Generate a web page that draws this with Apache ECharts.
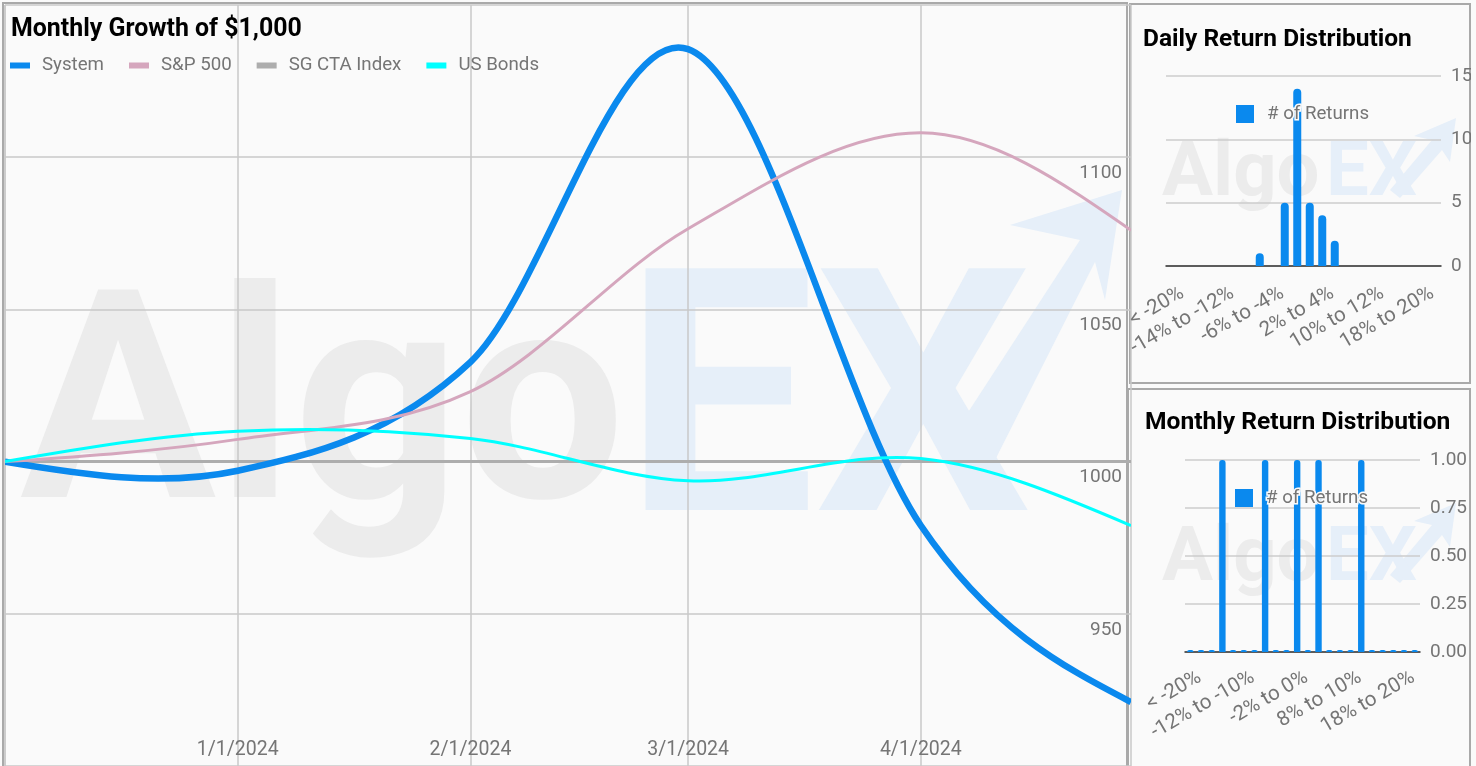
<!DOCTYPE html>
<html>
<head>
<meta charset="utf-8">
<script src="https://cdn.jsdelivr.net/npm/echarts@6/dist/echarts.min.js"></script>
<style>
html,body{margin:0;padding:0;background:#fafafa;}
#c{width:1476px;height:766px;}
</style>
</head>
<body>
<div id="c"></div>
<script>
// ---- Monthly growth of $1,000 ----
const dates = ['2023-12-01', '2024-01-01', '2024-02-01', '2024-03-01', '2024-04-01', '2024-04-29'];
const systemValues = [1000, 997, 1032.7, 1135.5, 979, 921];
const sp500Values = [1000, 1007.3, 1023, 1076.5, 1108, 1076];
const ctaValues = [1000, 1000, 1000, 1000, 1000, 1000];
const bondValues = [1000, 1010, 1007.6, 993.7, 1001, 979];
const seriesNames = ['System', 'S&P 500', 'SG CTA Index', 'US Bonds'];

// ---- Return distributions ----
const returnBins = ['< -20%', '-20% to -18%', '-18% to -16%', '-16% to -14%', '-14% to -12%',
  '-12% to -10%', '-10% to -8%', '-8% to -6%', '-6% to -4%', '-4% to -2%', '-2% to 0%',
  '0% to 2%', '2% to 4%', '4% to 6%', '6% to 8%', '8% to 10%', '10% to 12%', '12% to 14%',
  '14% to 16%', '16% to 18%', '18% to 20%', '> 20%'];
const dailyCounts = [0, 0, 0, 0, 0, 0, 0, 1, 0, 5, 14, 5, 4, 2, 0, 0, 0, 0, 0, 0, 0, 0];
const monthlyCounts = [0, 0, 0, 1, 0, 0, 0, 1, 0, 0, 1, 0, 1, 0, 0, 0, 1, 0, 0, 0, 0, 0];
const dailyTicks = [0, 5, 10, 15];
const monthlyTicks = [0, 0.25, 0.5, 0.75, 1];

const FONT = 'Roboto, "Noto Sans", sans-serif';
const GRAY = '#757575';
const BLUE = '#0a89ee';

const ts = (d) => echarts.time.parse(d).getTime();
const times = dates.map(ts);
const pair = (arr) => times.map((t, i) => [t, arr[i]]);

// smooth function curve through the points: cubic Hermite with
// Catmull-Rom slopes inside and zero-curvature ends
function curvePath(pts) {
  const n = pts.length;
  const slope = (a, b) => (b[1] - a[1]) / (b[0] - a[0]);
  const m = new Array(n);
  for (let i = 1; i < n - 1; i++) m[i] = slope(pts[i - 1], pts[i + 1]);
  const s0 = slope(pts[0], pts[1]);
  const sn = slope(pts[n - 2], pts[n - 1]);
  m[0] = n > 2 ? (3 * s0 - m[1]) / 2 : s0;
  m[n - 1] = n > 2 ? (3 * sn - m[n - 2]) / 2 : sn;
  let d = 'M' + pts[0][0] + ' ' + pts[0][1];
  for (let i = 0; i < n - 1; i++) {
    const h = (pts[i + 1][0] - pts[i][0]) / 3;
    d += ' C' + (pts[i][0] + h) + ' ' + (pts[i][1] + m[i] * h) + ' ' +
      (pts[i + 1][0] - h) + ' ' + (pts[i + 1][1] - m[i + 1] * h) + ' ' +
      pts[i + 1][0] + ' ' + pts[i + 1][1];
  }
  return d;
}

function curveSeries(name, values, color, width, z) {
  return {
    name: name, type: 'custom', xAxisIndex: 0, yAxisIndex: 0, clip: true, z: z,
    data: pair(values), encode: {x: 0, y: 1},
    color: color, itemStyle: {color: color},
    renderItem: function (params, api) {
      if (params.dataIndexInside !== 0) return null;
      const pts = values.map((v, i) => api.coord([times[i], v]));
      return {
        type: 'path',
        shape: {pathData: curvePath(pts)},
        style: {fill: 'none', stroke: color, lineWidth: width}
      };
    }
  };
}

const chart = echarts.init(document.getElementById('c'), null, {renderer: 'canvas'});

const wmGray = '#ececec';
const wmBlue = '#e6eff9';

const option = {
  backgroundColor: '#fafafa',
  animation: false,
  textStyle: {fontFamily: FONT},
  graphic: [
    // panel frames
    {type: 'rect', z: 0, shape: {x: 3, y: 3, width: 1124, height: 800}, style: {fill: '#fafafa', stroke: '#a9a9a9', lineWidth: 2}},
    {type: 'rect', z: 0, shape: {x: 1130, y: 4, width: 340, height: 379}, style: {fill: '#fafafa', stroke: '#a9a9a9', lineWidth: 2}},
    {type: 'rect', z: 0, shape: {x: 1128, y: 389, width: 342, height: 400}, style: {fill: '#fafafa', stroke: '#a9a9a9', lineWidth: 2}},
    // watermarks main
    {type: 'text', z: 0, z2: 5, x: 20, y: 278, style: {text: 'Algo', font: 'bold 292px Roboto', fill: wmGray}},
    {type: 'text', z: 0, z2: 5, x: 624, y: 255, style: {text: 'EX', font: 'bold 340px Roboto', fill: wmBlue}},
    {type: 'polygon', z: 0, z2: 4, shape: {points: [[950, 440], [1080, 240], [1010, 225], [1122, 190], [1105, 300], [1095, 262], [990, 470]]}, style: {fill: wmBlue}},
    // watermarks daily
    {type: 'text', z: 0, z2: 5, x: 1162, y: 138, style: {text: 'Algo', font: 'bold 76px Roboto', fill: wmGray}},
    {type: 'text', z: 0, z2: 5, x: 1326, y: 138, style: {text: 'EX', font: 'bold 76px Roboto', fill: wmBlue}},
    {type: 'polygon', z: 0, z2: 4, shape: {points: [[1390, 190], [1432, 140], [1414, 136], [1456, 118], [1450, 162], [1442, 150], [1400, 198]]}, style: {fill: wmBlue}},
    // watermarks monthly
    {type: 'text', z: 0, z2: 5, x: 1162, y: 523, style: {text: 'Algo', font: 'bold 76px Roboto', fill: wmGray}},
    {type: 'text', z: 0, z2: 5, x: 1326, y: 523, style: {text: 'EX', font: 'bold 76px Roboto', fill: wmBlue}},
    {type: 'polygon', z: 0, z2: 4, shape: {points: [[1390, 575], [1432, 525], [1414, 521], [1456, 503], [1450, 547], [1442, 535], [1400, 583]]}, style: {fill: wmBlue}},
    // clip area right of the panels
    {type: 'rect', z: 20, shape: {x: 1471, y: 0, width: 10, height: 766}, style: {fill: '#fafafa'}}
  ],
  title: [
    {text: 'Monthly Growth of $1,000', left: 11, top: 17, padding: 0,
      textStyle: {fontSize: 24.9, fontWeight: 'bold', color: '#000', fontFamily: FONT}},
    {text: 'Daily Return Distribution', left: 1143, top: 27, padding: 0,
      textStyle: {fontSize: 24.5, fontWeight: 'bold', color: '#000', fontFamily: FONT}},
    {text: 'Monthly Return Distribution', left: 1145, top: 410, padding: 0,
      textStyle: {fontSize: 24.6, fontWeight: 'bold', color: '#000', fontFamily: FONT}}
  ],
  legend: [
    {data: seriesNames, left: 10, top: 56, padding: 0, icon: 'rect', itemWidth: 20, itemHeight: 6, itemGap: 25,
      textStyle: {fontSize: 18.7, color: GRAY, fontFamily: FONT, padding: [0, 0, 0, 7]}},
    {data: ['# of Returns'], left: 1236, top: 103, padding: 0, icon: 'rect', itemWidth: 18, itemHeight: 18,
      textStyle: {fontSize: 18.7, color: GRAY, fontFamily: FONT, padding: [0, 0, 0, 8], textBorderColor: '#fafafa', textBorderWidth: 3}},
    {data: ['# of Returns'], left: 1235, top: 487, padding: 0, icon: 'rect', itemWidth: 18, itemHeight: 18,
      textStyle: {fontSize: 18.7, color: GRAY, fontFamily: FONT, padding: [0, 0, 0, 8], textBorderColor: '#fafafa', textBorderWidth: 3}}
  ],
  grid: [
    {left: 5, top: 5, width: 1126, height: 765},
    {left: 1166, top: 76, width: 275, height: 190},
    {left: 1185, top: 460, width: 235, height: 192}
  ],
  xAxis: [
    {type: 'time', gridIndex: 0, z: 1, min: times[0], max: times[times.length - 1],
      axisLine: {show: false}, axisTick: {show: false},
      splitLine: {show: true, lineStyle: {color: '#c8c8c8', width: 1.5}},
      axisLabel: {inside: true, margin: 6, fontSize: 19.5, color: GRAY, fontFamily: FONT, showMinLabel: false,
        formatter: function (v) {
          const d = new Date(v);
          if (d.getMonth() === 11) return '';
          return (d.getMonth() + 1) + '/' + d.getDate() + '/' + d.getFullYear();
        }}},
    {type: 'category', gridIndex: 1, z: 1, data: returnBins,
      axisLine: {show: true, lineStyle: {color: '#333', width: 1.5}}, axisTick: {show: false},
      axisLabel: {interval: 3, rotate: 30, fontSize: 20.5, color: GRAY, fontFamily: FONT, margin: 8,
        verticalAlign: 'top', padding: [10, 0, 0, 0]}},
    {type: 'category', gridIndex: 2, z: 1, data: returnBins,
      axisLine: {show: true, lineStyle: {color: '#333', width: 1.5}}, axisTick: {show: false},
      axisLabel: {interval: 4, rotate: 30, fontSize: 20.5, color: GRAY, fontFamily: FONT, margin: 8,
        verticalAlign: 'top', padding: [8, 0, 0, 0]}}
  ],
  yAxis: [
    {type: 'value', gridIndex: 0, z: 1, position: 'right', min: 900, max: 1150, interval: 50,
      axisLine: {show: false}, axisTick: {show: false},
      splitLine: {lineStyle: {color: '#c8c8c8', width: 1.5}},
      axisLabel: {inside: true, margin: 9, fontSize: 19, color: GRAY, fontFamily: FONT,
        verticalAlign: 'top', lineHeight: 22, padding: [5, 0, 0, 0],
        showMinLabel: false, showMaxLabel: false, formatter: (v) => String(v)}},
    {type: 'value', gridIndex: 1, z: 1, position: 'right', min: dailyTicks[0], max: dailyTicks[dailyTicks.length - 1], interval: dailyTicks[1] - dailyTicks[0],
      axisLine: {show: false}, axisTick: {show: false},
      splitLine: {lineStyle: {color: '#cccccc', width: 1.5}},
      axisLabel: {margin: 10, fontSize: 19, color: GRAY, fontFamily: FONT}},
    {type: 'value', gridIndex: 2, z: 1, position: 'right', min: monthlyTicks[0], max: monthlyTicks[monthlyTicks.length - 1], interval: monthlyTicks[1] - monthlyTicks[0],
      axisLine: {show: false}, axisTick: {show: false},
      splitLine: {lineStyle: {color: '#cccccc', width: 1.5}},
      axisLabel: {margin: 10, fontSize: 19, color: GRAY, fontFamily: FONT, formatter: (v) => v.toFixed(2)}}
  ],
  series: [
    curveSeries('SG CTA Index', ctaValues, '#adadad', 3, 2),
    curveSeries('System', systemValues, BLUE, 6.5, 3),
    curveSeries('S&P 500', sp500Values, '#d5a6bd', 3, 3),
    curveSeries('US Bonds', bondValues, '#00ffff', 3, 3),
    {name: '# of Returns', type: 'bar', xAxisIndex: 1, yAxisIndex: 1, data: dailyCounts, barWidth: '64%',
      itemStyle: {color: BLUE, borderRadius: [4, 4, 0, 0]}},
    {name: '# of Returns', type: 'bar', xAxisIndex: 2, yAxisIndex: 2, data: monthlyCounts, barWidth: '60%', barMinHeight: 2,
      itemStyle: {color: BLUE, borderRadius: [3, 3, 0, 0]}}
  ]
};
chart.setOption(option);
</script>
</body>
</html>
